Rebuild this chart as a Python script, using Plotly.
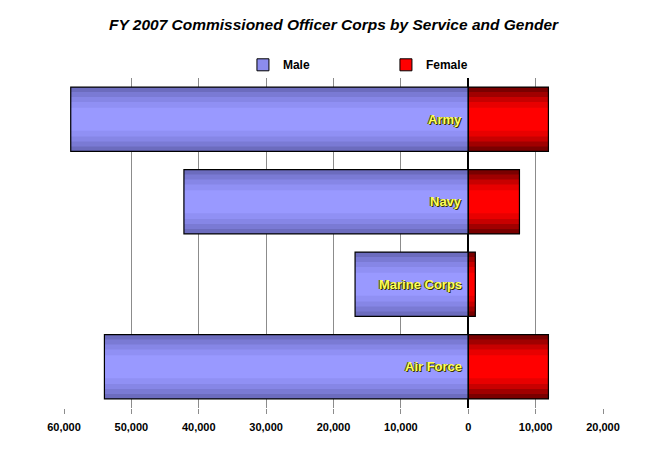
import plotly.graph_objects as go

services = ["Army", "Navy", "Marine Corps", "Air Force"]
male = [59000, 42200, 16800, 54000]
female = [11900, 7600, 1050, 11900]
tick_vals = [-60000, -50000, -40000, -30000, -20000, -10000, 0, 10000, 20000]
tick_text = ["60,000", "50,000", "40,000", "30,000", "20,000", "10,000", "0", "10,000", "20,000"]

male_neg = [-v for v in male]

fig = go.Figure()

male_shades = ["#6c6cbe", "#7a7ad4", "#8686e6", "#9090f4", "#9999ff"]
female_shades = ["#7a0000", "#a00000", "#c80000", "#e80000", "#ff0000"]
widths = [0.78, 0.66, 0.54, 0.42, 0.28]

for c, w in zip(male_shades, widths):
    fig.add_trace(go.Bar(
        y=services, x=male_neg, orientation="h", width=w,
        marker=dict(color=c, line=dict(width=0)),
        showlegend=False, hoverinfo="skip"))
for c, w in zip(female_shades, widths):
    fig.add_trace(go.Bar(
        y=services, x=female, orientation="h", width=w,
        marker=dict(color=c, line=dict(width=0)),
        showlegend=False, hoverinfo="skip"))
for xs in (male_neg, female):
    fig.add_trace(go.Bar(
        y=services, x=xs, orientation="h", width=0.78,
        marker=dict(color="rgba(0,0,0,0)", line=dict(color="black", width=1.2)),
        showlegend=False, hoverinfo="skip"))

# legend entries
fig.add_trace(go.Bar(x=[None], y=[None], orientation="h", name="Male",
                     marker=dict(color="#8c8cee", line=dict(color="black", width=1))))
fig.add_trace(go.Bar(x=[None], y=[None], orientation="h", name="Female",
                     marker=dict(color="#ff0000", line=dict(color="black", width=1))))

for s in services:
    fig.add_annotation(x=0, y=s, text="<b>" + s + "</b>", showarrow=False, xanchor="right", xshift=-4,
                       font=dict(family="Arial", size=13, color="#ffff55",
                                 shadow="1px 1px 0px #333300, -1px 0px 0px #555500"))

fig.update_layout(
    width=657, height=469,
    barmode="overlay",
    plot_bgcolor="white", paper_bgcolor="white",
    margin=dict(l=56, r=62, t=70, b=69),
    title=dict(text="<b><i>FY 2007 Commissioned Officer Corps by Service and Gender</i></b>",
               x=0.5, xanchor="center", xref="paper", y=1 - 17 / 469, yanchor="middle",
               font=dict(family="Arial", size=15.5, color="black")),
    legend=dict(orientation="h", x=0.332, y=1.04, xanchor="left", yanchor="middle",
                entrywidth=98, entrywidthmode="pixels",
                font=dict(family="Arial", size=12, color="black", weight="bold"),
                itemwidth=30, bgcolor="rgba(0,0,0,0)"),
    showlegend=True,
)
fig.update_xaxes(range=[-60000, 20000], tickvals=tick_vals, ticktext=tick_text,
                 showgrid=True, gridcolor="#8c8c8c", gridwidth=1,
                 zeroline=True, zerolinecolor="black", zerolinewidth=1.5,
                 ticks="outside", ticklen=5, tickcolor="#8c8c8c",
                 ticklabelstandoff=4,
                 tickfont=dict(family="Arial", size=11, color="black", weight="bold"),
                 showline=False, fixedrange=True)
fig.update_yaxes(categoryorder="array", categoryarray=services, autorange="reversed",
                 showticklabels=False, showgrid=False, zeroline=False, showline=False,
                 range=[3.5, -0.5])

fig.write_html("out.html")
